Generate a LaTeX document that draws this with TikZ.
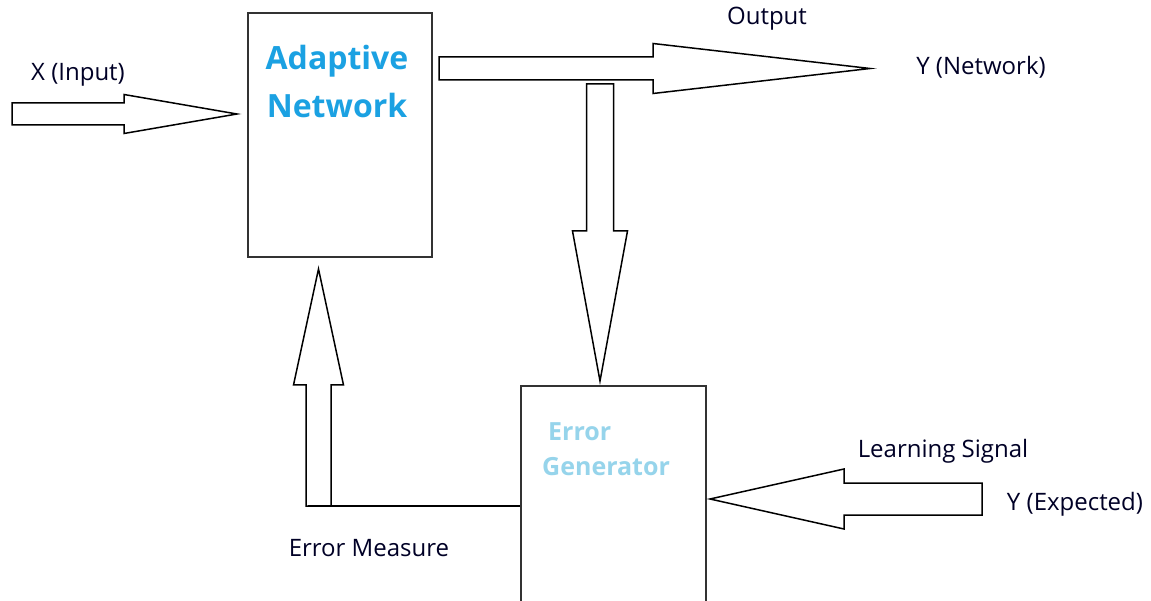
\documentclass[tikz,border=0pt]{standalone}
\usepackage{fontspec}
\setmainfont{Open Sans}
\usetikzlibrary{calc}
\definecolor{netblue}{RGB}{27,161,226}
\definecolor{errblue}{RGB}{150,212,235}
\definecolor{boxline}{RGB}{50,50,50}
\tikzset{
  block/.style={draw=boxline, line width=2pt, rectangle, inner sep=0pt},
  arrowline/.style={draw=black, line width=1.5pt, fill=white, line join=miter},
  label/.style={inner sep=0pt, font=\fontsize{24}{28}\selectfont, text=black!85!blue},
  title/.style={inner sep=0pt, font=\bfseries\fontsize{32}{48}\selectfont, text=netblue, align=center},
}
% block arrow from #1 to tip #2: body half width #3, head half width #4, head length #5
\newcommand\blockarrow[5]{%
  \coordinate (hb) at ($(#2)!#5!(#1)$);
  \draw[arrowline]
    ($(#1)!#3!90:(#2)$) -- ($(hb)!#3!90:(#2)$) -- ($(hb)!#4!90:(#2)$) --
    (#2) --
    ($(hb)!#4!-90:(#2)$) -- ($(hb)!#3!-90:(#2)$) -- ($(#1)!#3!-90:(#2)$) -- cycle;
}
\begin{document}
\begin{tikzpicture}[x=1pt, y=-1pt]
  \path[use as bounding box, fill=white] (0,0) rectangle (1151,601);
  \clip (0,0) rectangle (1151,601);

  % the two blocks
  \node[block, minimum width=184pt, minimum height=244pt] (an) at (340,135) {};
  \node[block, minimum width=185pt, minimum height=254pt] (eg) at (613.5,513) {};

  \node[title] (antext) at (337,82) {Adaptive\\Network};
  \node[inner sep=0pt, font=\bfseries\fontsize{25}{35}\selectfont, text=errblue, align=left, anchor=west]
    (egtext) at (542,449) {\hspace*{6pt}Error\\Generator};

  % anchor points of the block arrows
  \coordinate (xin) at (12,114);
  \coordinate (xtip) at ($(an.west)+(-10,-21)$);
  \coordinate (yout) at ($(an.east |- 0,68.5)+(6,0)$);
  \coordinate (ytip) at (870,68.5);
  \coordinate (dstart) at (600,84);
  \coordinate (dtip) at ($(eg.north)+(-13.5,-4)$);
  \coordinate (ustart) at (318.5,506);
  \coordinate (utip) at ($(an.south)+(-21.5,11)$);
  \coordinate (lstart) at (982,499);
  \coordinate (ltip) at ($(eg.east |- lstart)+(3,0)$);

  \blockarrow{xin}{xtip}{11pt}{19.5pt}{113pt}
  \blockarrow{yout}{ytip}{11.5pt}{25pt}{217pt}
  \blockarrow{dstart}{dtip}{13.5pt}{27.5pt}{150pt}
  \blockarrow{ustart}{utip}{12.5pt}{25pt}{116pt}
  \blockarrow{lstart}{ltip}{16pt}{30pt}{134pt}

  % feedback line from the error generator to the measure arrow
  \draw[line width=1.5pt] ($(ustart)+(-11,0)$) -- (ustart -| eg.west);

  % labels
  \node[label] (lx) at (78,75) {X (Input)};
  \node[label] (lout) at (767,19) {Output};
  \node[label] (lyn) at (981,67) {Y (Network)};
  \node[label] (lls) at (943,451) {Learning Signal};
  \node[label] (lye) at (1075,504) {Y (Expected)};
  \node[label] (lem) at (369,548) {Error Measure};
\end{tikzpicture}
\end{document}
